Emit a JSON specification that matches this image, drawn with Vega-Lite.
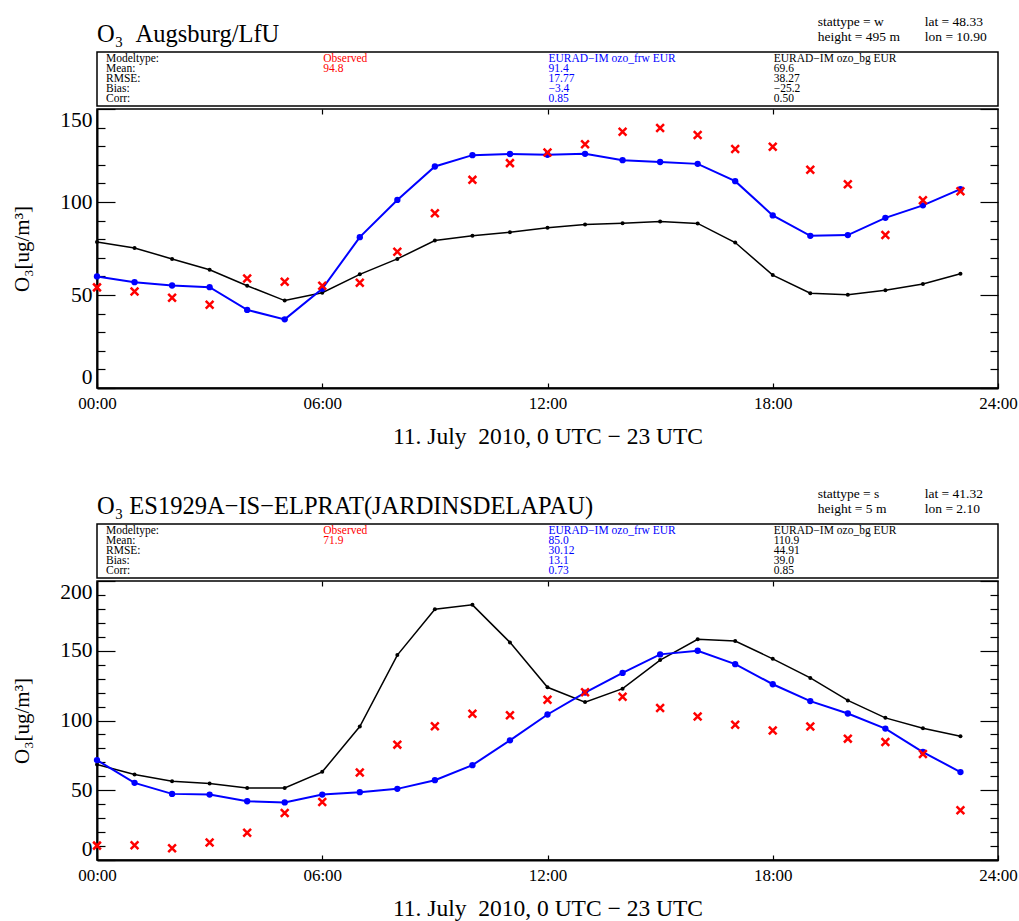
{
  "$schema": "https://vega.github.io/schema/vega-lite/v6.json",
  "padding": {"left": 11, "top": 0, "right": 0, "bottom": 0},
  "background": "white",
  "spacing": 23,
  "config": {
    "font": "Liberation Serif",
    "view": {"stroke": null},
    "axis": {"domainColor": "black", "tickColor": "black", "labelColor": "black", "titleColor": "black", "labelFont": "Liberation Serif", "titleFont": "Liberation Serif", "grid": false, "titleFontWeight": "normal", "labelOverlap": false},
    "text": {"font": "Liberation Serif"}
  },
  "datasets": {
    "head": [
      {"panel": 1, "kind": "title", "col": "label", "line": 2, "text": "O₃\u00a0\u00a0Augsburg/LfU"},
      {"panel": 1, "kind": "metaL", "col": "bg", "line": 1, "text": "stattype = w"},
      {"panel": 1, "kind": "metaL", "col": "bg", "line": 2, "text": "height = 495 m"},
      {"panel": 1, "kind": "metaR", "col": "bg", "line": 1, "text": "lat = 48.33"},
      {"panel": 1, "kind": "metaR", "col": "bg", "line": 2, "text": "lon = 10.90"},
      {"panel": 2, "kind": "title", "col": "label", "line": 2, "text": "O₃\u00a0ES1929A−IS−ELPRAT(JARDINSDELAPAU)"},
      {"panel": 2, "kind": "metaL", "col": "bg", "line": 1, "text": "stattype = s"},
      {"panel": 2, "kind": "metaL", "col": "bg", "line": 2, "text": "height = 5 m"},
      {"panel": 2, "kind": "metaR", "col": "bg", "line": 1, "text": "lat = 41.32"},
      {"panel": 2, "kind": "metaR", "col": "bg", "line": 2, "text": "lon = 2.10"}
    ],
    "stats": [
      {"panel": 1, "stat": "Modeltype", "col": "label", "text": "Modeltype:"},
      {"panel": 1, "stat": "Mean", "col": "label", "text": "Mean:"},
      {"panel": 1, "stat": "RMSE", "col": "label", "text": "RMSE:"},
      {"panel": 1, "stat": "Bias", "col": "label", "text": "Bias:"},
      {"panel": 1, "stat": "Corr", "col": "label", "text": "Corr:"},
      {"panel": 1, "stat": "Modeltype", "col": "obs", "text": "Observed"},
      {"panel": 1, "stat": "Mean", "col": "obs", "text": "94.8"},
      {"panel": 1, "stat": "Modeltype", "col": "frw", "text": "EURAD−IM ozo_frw EUR"},
      {"panel": 1, "stat": "Mean", "col": "frw", "text": "91.4"},
      {"panel": 1, "stat": "RMSE", "col": "frw", "text": "17.77"},
      {"panel": 1, "stat": "Bias", "col": "frw", "text": "−3.4"},
      {"panel": 1, "stat": "Corr", "col": "frw", "text": "0.85"},
      {"panel": 1, "stat": "Modeltype", "col": "bg", "text": "EURAD−IM ozo_bg EUR"},
      {"panel": 1, "stat": "Mean", "col": "bg", "text": "69.6"},
      {"panel": 1, "stat": "RMSE", "col": "bg", "text": "38.27"},
      {"panel": 1, "stat": "Bias", "col": "bg", "text": "−25.2"},
      {"panel": 1, "stat": "Corr", "col": "bg", "text": "0.50"},
      {"panel": 2, "stat": "Modeltype", "col": "label", "text": "Modeltype:"},
      {"panel": 2, "stat": "Mean", "col": "label", "text": "Mean:"},
      {"panel": 2, "stat": "RMSE", "col": "label", "text": "RMSE:"},
      {"panel": 2, "stat": "Bias", "col": "label", "text": "Bias:"},
      {"panel": 2, "stat": "Corr", "col": "label", "text": "Corr:"},
      {"panel": 2, "stat": "Modeltype", "col": "obs", "text": "Observed"},
      {"panel": 2, "stat": "Mean", "col": "obs", "text": "71.9"},
      {"panel": 2, "stat": "Modeltype", "col": "frw", "text": "EURAD−IM ozo_frw EUR"},
      {"panel": 2, "stat": "Mean", "col": "frw", "text": "85.0"},
      {"panel": 2, "stat": "RMSE", "col": "frw", "text": "30.12"},
      {"panel": 2, "stat": "Bias", "col": "frw", "text": "13.1"},
      {"panel": 2, "stat": "Corr", "col": "frw", "text": "0.73"},
      {"panel": 2, "stat": "Modeltype", "col": "bg", "text": "EURAD−IM ozo_bg EUR"},
      {"panel": 2, "stat": "Mean", "col": "bg", "text": "110.9"},
      {"panel": 2, "stat": "RMSE", "col": "bg", "text": "44.91"},
      {"panel": 2, "stat": "Bias", "col": "bg", "text": "39.0"},
      {"panel": 2, "stat": "Corr", "col": "bg", "text": "0.85"}
    ],
    "ts": [
      {"panel":1,"hour":0,"series":"obs","o3":54.1},{"panel":1,"hour":1,"series":"obs","o3":51.9},{"panel":1,"hour":2,"series":"obs","o3":48.5},{"panel":1,"hour":3,"series":"obs","o3":44.7},{"panel":1,"hour":4,"series":"obs","o3":58.9},{"panel":1,"hour":5,"series":"obs","o3":57.1},{"panel":1,"hour":6,"series":"obs","o3":55.0},{"panel":1,"hour":7,"series":"obs","o3":56.6},{"panel":1,"hour":8,"series":"obs","o3":73.3},{"panel":1,"hour":9,"series":"obs","o3":93.9},{"panel":1,"hour":10,"series":"obs","o3":111.9},{"panel":1,"hour":11,"series":"obs","o3":120.9},{"panel":1,"hour":12,"series":"obs","o3":126.6},{"panel":1,"hour":13,"series":"obs","o3":131.0},{"panel":1,"hour":14,"series":"obs","o3":137.8},{"panel":1,"hour":15,"series":"obs","o3":139.8},{"panel":1,"hour":16,"series":"obs","o3":136.0},{"panel":1,"hour":17,"series":"obs","o3":128.5},{"panel":1,"hour":18,"series":"obs","o3":129.7},{"panel":1,"hour":19,"series":"obs","o3":117.3},{"panel":1,"hour":20,"series":"obs","o3":109.6},{"panel":1,"hour":21,"series":"obs","o3":82.2},{"panel":1,"hour":22,"series":"obs","o3":100.9},{"panel":1,"hour":23,"series":"obs","o3":105.8},
      {"panel":1,"hour":0,"series":"frw","o3":60.0},{"panel":1,"hour":1,"series":"frw","o3":56.9},{"panel":1,"hour":2,"series":"frw","o3":55.1},{"panel":1,"hour":3,"series":"frw","o3":54.2},{"panel":1,"hour":4,"series":"frw","o3":42.0},{"panel":1,"hour":5,"series":"frw","o3":36.9},{"panel":1,"hour":6,"series":"frw","o3":53.3},{"panel":1,"hour":7,"series":"frw","o3":81.1},{"panel":1,"hour":8,"series":"frw","o3":101.1},{"panel":1,"hour":9,"series":"frw","o3":119.1},{"panel":1,"hour":10,"series":"frw","o3":125.2},{"panel":1,"hour":11,"series":"frw","o3":125.8},{"panel":1,"hour":12,"series":"frw","o3":125.4},{"panel":1,"hour":13,"series":"frw","o3":125.9},{"panel":1,"hour":14,"series":"frw","o3":122.5},{"panel":1,"hour":15,"series":"frw","o3":121.5},{"panel":1,"hour":16,"series":"frw","o3":120.5},{"panel":1,"hour":17,"series":"frw","o3":111.2},{"panel":1,"hour":18,"series":"frw","o3":92.8},{"panel":1,"hour":19,"series":"frw","o3":81.8},{"panel":1,"hour":20,"series":"frw","o3":82.2},{"panel":1,"hour":21,"series":"frw","o3":91.5},{"panel":1,"hour":22,"series":"frw","o3":98.2},{"panel":1,"hour":23,"series":"frw","o3":106.9},
      {"panel":1,"hour":0,"series":"bg","o3":78.5},{"panel":1,"hour":1,"series":"bg","o3":75.3},{"panel":1,"hour":2,"series":"bg","o3":69.4},{"panel":1,"hour":3,"series":"bg","o3":63.6},{"panel":1,"hour":4,"series":"bg","o3":55.0},{"panel":1,"hour":5,"series":"bg","o3":47.0},{"panel":1,"hour":6,"series":"bg","o3":51.2},{"panel":1,"hour":7,"series":"bg","o3":61.1},{"panel":1,"hour":8,"series":"bg","o3":69.4},{"panel":1,"hour":9,"series":"bg","o3":79.3},{"panel":1,"hour":10,"series":"bg","o3":81.8},{"panel":1,"hour":11,"series":"bg","o3":83.8},{"panel":1,"hour":12,"series":"bg","o3":86.1},{"panel":1,"hour":13,"series":"bg","o3":87.9},{"panel":1,"hour":14,"series":"bg","o3":88.6},{"panel":1,"hour":15,"series":"bg","o3":89.5},{"panel":1,"hour":16,"series":"bg","o3":88.5},{"panel":1,"hour":17,"series":"bg","o3":78.2},{"panel":1,"hour":18,"series":"bg","o3":60.7},{"panel":1,"hour":19,"series":"bg","o3":51.0},{"panel":1,"hour":20,"series":"bg","o3":50.1},{"panel":1,"hour":21,"series":"bg","o3":52.6},{"panel":1,"hour":22,"series":"bg","o3":55.9},{"panel":1,"hour":23,"series":"bg","o3":61.4},
      {"panel":2,"hour":0,"series":"obs","o3":10.3},{"panel":2,"hour":1,"series":"obs","o3":10.6},{"panel":2,"hour":2,"series":"obs","o3":8.4},{"panel":2,"hour":3,"series":"obs","o3":12.5},{"panel":2,"hour":4,"series":"obs","o3":19.5},{"panel":2,"hour":5,"series":"obs","o3":33.7},{"panel":2,"hour":6,"series":"obs","o3":41.6},{"panel":2,"hour":7,"series":"obs","o3":62.7},{"panel":2,"hour":8,"series":"obs","o3":82.7},{"panel":2,"hour":9,"series":"obs","o3":95.9},{"panel":2,"hour":10,"series":"obs","o3":104.8},{"panel":2,"hour":11,"series":"obs","o3":103.8},{"panel":2,"hour":12,"series":"obs","o3":114.9},{"panel":2,"hour":13,"series":"obs","o3":120.2},{"panel":2,"hour":14,"series":"obs","o3":117.1},{"panel":2,"hour":15,"series":"obs","o3":108.9},{"panel":2,"hour":16,"series":"obs","o3":102.9},{"panel":2,"hour":17,"series":"obs","o3":96.9},{"panel":2,"hour":18,"series":"obs","o3":92.8},{"panel":2,"hour":19,"series":"obs","o3":95.7},{"panel":2,"hour":20,"series":"obs","o3":87.0},{"panel":2,"hour":21,"series":"obs","o3":84.6},{"panel":2,"hour":22,"series":"obs","o3":76.0},{"panel":2,"hour":23,"series":"obs","o3":35.6},
      {"panel":2,"hour":0,"series":"frw","o3":71.6},{"panel":2,"hour":1,"series":"frw","o3":55.3},{"panel":2,"hour":2,"series":"frw","o3":47.4},{"panel":2,"hour":3,"series":"frw","o3":46.9},{"panel":2,"hour":4,"series":"frw","o3":42.1},{"panel":2,"hour":5,"series":"frw","o3":41.3},{"panel":2,"hour":6,"series":"frw","o3":46.9},{"panel":2,"hour":7,"series":"frw","o3":48.6},{"panel":2,"hour":8,"series":"frw","o3":51.0},{"panel":2,"hour":9,"series":"frw","o3":57.2},{"panel":2,"hour":10,"series":"frw","o3":68.0},{"panel":2,"hour":11,"series":"frw","o3":85.8},{"panel":2,"hour":12,"series":"frw","o3":104.3},{"panel":2,"hour":13,"series":"frw","o3":120.0},{"panel":2,"hour":14,"series":"frw","o3":134.1},{"panel":2,"hour":15,"series":"frw","o3":147.4},{"panel":2,"hour":16,"series":"frw","o3":150.0},{"panel":2,"hour":17,"series":"frw","o3":140.4},{"panel":2,"hour":18,"series":"frw","o3":126.0},{"panel":2,"hour":19,"series":"frw","o3":113.9},{"panel":2,"hour":20,"series":"frw","o3":105.0},{"panel":2,"hour":21,"series":"frw","o3":94.2},{"panel":2,"hour":22,"series":"frw","o3":77.4},{"panel":2,"hour":23,"series":"frw","o3":63.0},
      {"panel":2,"hour":0,"series":"bg","o3":68.5},{"panel":2,"hour":1,"series":"bg","o3":61.3},{"panel":2,"hour":2,"series":"bg","o3":56.5},{"panel":2,"hour":3,"series":"bg","o3":54.8},{"panel":2,"hour":4,"series":"bg","o3":51.7},{"panel":2,"hour":5,"series":"bg","o3":51.7},{"panel":2,"hour":6,"series":"bg","o3":63.2},{"panel":2,"hour":7,"series":"bg","o3":95.7},{"panel":2,"hour":8,"series":"bg","o3":146.9},{"panel":2,"hour":9,"series":"bg","o3":179.8},{"panel":2,"hour":10,"series":"bg","o3":182.9},{"panel":2,"hour":11,"series":"bg","o3":156.0},{"panel":2,"hour":12,"series":"bg","o3":123.8},{"panel":2,"hour":13,"series":"bg","o3":113.2},{"panel":2,"hour":14,"series":"bg","o3":122.8},{"panel":2,"hour":15,"series":"bg","o3":143.3},{"panel":2,"hour":16,"series":"bg","o3":158.2},{"panel":2,"hour":17,"series":"bg","o3":157.0},{"panel":2,"hour":18,"series":"bg","o3":144.2},{"panel":2,"hour":19,"series":"bg","o3":130.5},{"panel":2,"hour":20,"series":"bg","o3":114.4},{"panel":2,"hour":21,"series":"bg","o3":101.9},{"panel":2,"hour":22,"series":"bg","o3":94.5},{"panel":2,"hour":23,"series":"bg","o3":88.7}
    ]
  },
  "vconcat": [
    {
      "spacing": 0,
      "vconcat": [
        {
          "width": 901, "height": 51,
          "data": {"name": "head"},
          "transform": [{"filter": "datum.panel == 1"}],
          "encoding": {
            "x": {"field": "col", "type": "nominal", "bandPosition": 0, "scale": {"type": "band", "domain": ["label", "obs", "frw", "bg"], "paddingInner": 0, "paddingOuter": 0}, "axis": null},
            "y": {"field": "line", "type": "quantitative", "scale": {"domain": [-0.6, 3.03], "reverse": true, "nice": false, "zero": false}, "axis": null},
            "text": {"field": "text"}
          },
          "layer": [
            {"transform": [{"filter": "datum.kind == 'title'"}], "mark": {"type": "text", "align": "left", "baseline": "alphabetic", "fontSize": 24.5, "dy": 5, "color": "black"}},
            {"transform": [{"filter": "datum.kind == 'metaL'"}], "mark": {"type": "text", "align": "left", "baseline": "middle", "fontSize": 13.5, "dx": 45, "color": "black"}},
            {"transform": [{"filter": "datum.kind == 'metaR'"}], "mark": {"type": "text", "align": "left", "baseline": "middle", "fontSize": 13.5, "dx": 152, "color": "black"}}
          ]
        },
        {
          "width": 901, "height": 54,
          "view": {"stroke": "black", "strokeWidth": 1.5},
          "data": {"name": "stats"},
          "transform": [{"filter": "datum.panel == 1"}],
          "encoding": {
            "x": {"field": "col", "type": "nominal", "bandPosition": 0, "scale": {"type": "band", "domain": ["label", "obs", "frw", "bg"], "paddingInner": 0, "paddingOuter": 0}, "axis": null},
            "y": {"field": "stat", "type": "nominal", "scale": {"type": "point", "domain": ["Modeltype", "Mean", "RMSE", "Bias", "Corr"], "padding": 0.7}, "axis": null},
            "text": {"field": "text"},
            "color": {"field": "col", "type": "nominal", "scale": {"domain": ["label", "obs", "frw", "bg"], "range": ["#000000", "#ff0000", "#0000ff", "#000000"]}, "legend": null}
          },
          "layer": [
            {"transform": [{"filter": "datum.col == 'label'"}], "mark": {"type": "text", "align": "left", "baseline": "middle", "fontSize": 11.5, "dx": 9}},
            {"transform": [{"filter": "datum.col != 'label'"}], "mark": {"type": "text", "align": "left", "baseline": "middle", "fontSize": 11.5, "dx": 1}}
          ]
        },
        {
          "width": 901, "height": 279,
          "view": {"stroke": "black", "strokeWidth": 1.5},
          "data": {"name": "ts"},
          "transform": [{"filter": "datum.panel == 1"}],
          "layer": [
            {
              "transform": [{"filter": "datum.series == 'bg'"}],
              "mark": {"type": "line", "color": "black", "strokeWidth": 1.5},
              "encoding": {
                "x": {"field": "hour", "type": "quantitative", "scale": {"domain": [0, 24], "nice": false, "zero": false},
                  "axis": {"orient": "bottom", "values": [0, 6, 12, 18, 24], "labelExpr": "(datum.value < 10 ? '0' : '') + datum.value + ':00'", "labelFlush": false, "labelBound": false, "labelFontSize": 17, "labelPadding": 12, "tickSize": -5, "tickWidth": 1.2, "domainWidth": 2, "title": "11. July\u00a0\u00a02010, 0 UTC − 23 UTC", "titleFontSize": 23.5, "titlePadding": 13}},
                "y": {"field": "o3", "type": "quantitative", "scale": {"domain": [0, 150], "nice": false, "zero": false},
                  "axis": {"orient": "left", "values": [0,10,20,30,40,50,60,70,80,90,100,110,120,130,140,150], "labelExpr": "datum.value % 50 == 0 ? datum.label : ''", "labelFlush": true, "tickSize": {"condition": {"test": "datum.value % 50 == 0", "value": -18}, "value": -8}, "tickWidth": 1.2, "labelPadding": 23, "labelFontSize": 21.5, "domainWidth": 2, "title": "O₃[ug/m³]", "titleFontSize": 21, "titlePadding": 27}}
              }
            },
            {
              "transform": [{"filter": "datum.series == 'frw'"}],
              "mark": {"type": "line", "color": "#0000ff", "strokeWidth": 2},
              "encoding": {
                "x": {"field": "hour", "type": "quantitative", "axis": {"orient": "top", "values": [6, 12, 18], "labels": false, "tickSize": -5, "tickWidth": 1.2, "domain": false, "title": null}},
                "y": {"field": "o3", "type": "quantitative", "axis": {"orient": "right", "values": [0,10,20,30,40,50,60,70,80,90,100,110,120,130,140,150], "labels": false, "tickSize": {"condition": {"test": "datum.value % 50 == 0", "value": -18}, "value": -8}, "tickWidth": 1.2, "domain": false, "title": null}}
              }
            },
            {
              "transform": [{"filter": "datum.series == 'bg'"}],
              "mark": {"type": "point", "filled": true, "color": "black", "size": 16, "opacity": 1},
              "encoding": {"x": {"field": "hour", "type": "quantitative", "axis": null}, "y": {"field": "o3", "type": "quantitative", "axis": null}}
            },
            {
              "transform": [{"filter": "datum.series == 'frw'"}],
              "mark": {"type": "point", "filled": true, "color": "#0000ff", "size": 40, "opacity": 1},
              "encoding": {"x": {"field": "hour", "type": "quantitative", "axis": null}, "y": {"field": "o3", "type": "quantitative", "axis": null}}
            },
            {
              "transform": [{"filter": "datum.series == 'obs'"}],
              "mark": {"type": "point", "shape": "M-1,-1L1,1M-1,1L1,-1", "filled": false, "stroke": "#ff0000", "strokeWidth": 2.5, "size": 60, "opacity": 1},
              "encoding": {"x": {"field": "hour", "type": "quantitative", "axis": null}, "y": {"field": "o3", "type": "quantitative", "axis": null}}
            }
          ],
          "resolve": {"axis": {"x": "independent", "y": "independent"}}
        }
      ]
    },
    {
      "spacing": 0,
      "vconcat": [
        {
          "width": 901, "height": 51,
          "data": {"name": "head"},
          "transform": [{"filter": "datum.panel == 2"}],
          "encoding": {
            "x": {"field": "col", "type": "nominal", "bandPosition": 0, "scale": {"type": "band", "domain": ["label", "obs", "frw", "bg"], "paddingInner": 0, "paddingOuter": 0}, "axis": null},
            "y": {"field": "line", "type": "quantitative", "scale": {"domain": [-0.6, 3.03], "reverse": true, "nice": false, "zero": false}, "axis": null},
            "text": {"field": "text"}
          },
          "layer": [
            {"transform": [{"filter": "datum.kind == 'title'"}], "mark": {"type": "text", "align": "left", "baseline": "alphabetic", "fontSize": 24.5, "dy": 5, "color": "black"}},
            {"transform": [{"filter": "datum.kind == 'metaL'"}], "mark": {"type": "text", "align": "left", "baseline": "middle", "fontSize": 13.5, "dx": 45, "color": "black"}},
            {"transform": [{"filter": "datum.kind == 'metaR'"}], "mark": {"type": "text", "align": "left", "baseline": "middle", "fontSize": 13.5, "dx": 152, "color": "black"}}
          ]
        },
        {
          "width": 901, "height": 54,
          "view": {"stroke": "black", "strokeWidth": 1.5},
          "data": {"name": "stats"},
          "transform": [{"filter": "datum.panel == 2"}],
          "encoding": {
            "x": {"field": "col", "type": "nominal", "bandPosition": 0, "scale": {"type": "band", "domain": ["label", "obs", "frw", "bg"], "paddingInner": 0, "paddingOuter": 0}, "axis": null},
            "y": {"field": "stat", "type": "nominal", "scale": {"type": "point", "domain": ["Modeltype", "Mean", "RMSE", "Bias", "Corr"], "padding": 0.7}, "axis": null},
            "text": {"field": "text"},
            "color": {"field": "col", "type": "nominal", "scale": {"domain": ["label", "obs", "frw", "bg"], "range": ["#000000", "#ff0000", "#0000ff", "#000000"]}, "legend": null}
          },
          "layer": [
            {"transform": [{"filter": "datum.col == 'label'"}], "mark": {"type": "text", "align": "left", "baseline": "middle", "fontSize": 11.5, "dx": 9}},
            {"transform": [{"filter": "datum.col != 'label'"}], "mark": {"type": "text", "align": "left", "baseline": "middle", "fontSize": 11.5, "dx": 1}}
          ]
        },
        {
          "width": 901, "height": 279,
          "view": {"stroke": "black", "strokeWidth": 1.5},
          "data": {"name": "ts"},
          "transform": [{"filter": "datum.panel == 2"}],
          "layer": [
            {
              "transform": [{"filter": "datum.series == 'bg'"}],
              "mark": {"type": "line", "color": "black", "strokeWidth": 1.5},
              "encoding": {
                "x": {"field": "hour", "type": "quantitative", "scale": {"domain": [0, 24], "nice": false, "zero": false},
                  "axis": {"orient": "bottom", "values": [0, 6, 12, 18, 24], "labelExpr": "(datum.value < 10 ? '0' : '') + datum.value + ':00'", "labelFlush": false, "labelBound": false, "labelFontSize": 17, "labelPadding": 12, "tickSize": -5, "tickWidth": 1.2, "domainWidth": 2, "title": "11. July\u00a0\u00a02010, 0 UTC − 23 UTC", "titleFontSize": 23.5, "titlePadding": 13}},
                "y": {"field": "o3", "type": "quantitative", "scale": {"domain": [0, 200], "nice": false, "zero": false},
                  "axis": {"orient": "left", "values": [0,10,20,30,40,50,60,70,80,90,100,110,120,130,140,150,160,170,180,190,200], "labelExpr": "datum.value % 50 == 0 ? datum.label : ''", "labelFlush": true, "tickSize": {"condition": {"test": "datum.value % 50 == 0", "value": -18}, "value": -8}, "tickWidth": 1.2, "labelPadding": 23, "labelFontSize": 21.5, "domainWidth": 2, "title": "O₃[ug/m³]", "titleFontSize": 21, "titlePadding": 27}}
              }
            },
            {
              "transform": [{"filter": "datum.series == 'frw'"}],
              "mark": {"type": "line", "color": "#0000ff", "strokeWidth": 2},
              "encoding": {
                "x": {"field": "hour", "type": "quantitative", "axis": {"orient": "top", "values": [6, 12, 18], "labels": false, "tickSize": -5, "tickWidth": 1.2, "domain": false, "title": null}},
                "y": {"field": "o3", "type": "quantitative", "axis": {"orient": "right", "values": [0,10,20,30,40,50,60,70,80,90,100,110,120,130,140,150,160,170,180,190,200], "labels": false, "tickSize": {"condition": {"test": "datum.value % 50 == 0", "value": -18}, "value": -8}, "tickWidth": 1.2, "domain": false, "title": null}}
              }
            },
            {
              "transform": [{"filter": "datum.series == 'bg'"}],
              "mark": {"type": "point", "filled": true, "color": "black", "size": 16, "opacity": 1},
              "encoding": {"x": {"field": "hour", "type": "quantitative", "axis": null}, "y": {"field": "o3", "type": "quantitative", "axis": null}}
            },
            {
              "transform": [{"filter": "datum.series == 'frw'"}],
              "mark": {"type": "point", "filled": true, "color": "#0000ff", "size": 40, "opacity": 1},
              "encoding": {"x": {"field": "hour", "type": "quantitative", "axis": null}, "y": {"field": "o3", "type": "quantitative", "axis": null}}
            },
            {
              "transform": [{"filter": "datum.series == 'obs'"}],
              "mark": {"type": "point", "shape": "M-1,-1L1,1M-1,1L1,-1", "filled": false, "stroke": "#ff0000", "strokeWidth": 2.5, "size": 60, "opacity": 1},
              "encoding": {"x": {"field": "hour", "type": "quantitative", "axis": null}, "y": {"field": "o3", "type": "quantitative", "axis": null}}
            }
          ],
          "resolve": {"axis": {"x": "independent", "y": "independent"}}
        }
      ]
    }
  ]
}
